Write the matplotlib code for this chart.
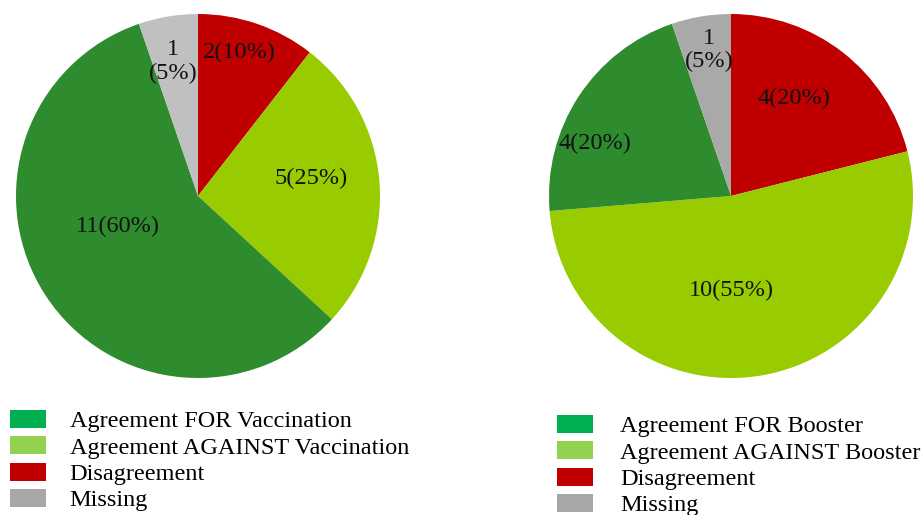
import numpy as np
import matplotlib
matplotlib.use("Agg")
import matplotlib.pyplot as plt
from matplotlib.patches import Patch

# slice order: clockwise from 12 o'clock
vacc_counts = [2, 5, 11, 1]
vacc_labels = ["2(10%)", "5(25%)", "11(60%)", "1\n(5%)"]
boost_counts = [4, 10, 4, 1]
boost_labels = ["4(20%)", "10(55%)", "4(20%)", "1\n(5%)"]

vacc_legend = ["Agreement FOR Vaccination", "Agreement AGAINST Vaccination",
               "Disagreement", "Missing"]
boost_legend = ["Agreement FOR Booster", "Agreement AGAINST Booster",
                "Disagreement", "Missing"]

# slice colours: red, lime, green, grey
slice_cols_l = ["#C00000", "#99CC00", "#2E8B2E", "#C0C0C0"]
slice_cols_r = ["#C00000", "#99CC00", "#2E8B2E", "#A9A9A9"]
legend_cols = ["#00B050", "#92D050", "#C00000", "#A9A6A6"]

# label placement: fraction of radius, angle shift (deg, clockwise) from wedge middle
lab_r_l = [0.82, 0.63, 0.47, 0.75]
lab_da_l = [-3, -4, 12, -1]
lab_r_r = [0.64, 0.52, 0.80, 0.81]
lab_da_r = [-5, 9, -12, 1]

plt.rcParams["font.family"] = ["Liberation Serif", "DejaVu Serif"]

W, H = 923, 515
fig = plt.figure(figsize=(W / 100, H / 100), dpi=100)


def draw_pie(x0, counts, labels, cols, radii, shifts):
    ax = fig.add_axes([x0 / W, 1 - 378 / H, 364 / W, 364 / H])
    wedges, _ = ax.pie(counts, colors=cols, startangle=90, counterclock=False,
                       radius=1, wedgeprops=dict(linewidth=0))
    for w, lab, r, da in zip(wedges, labels, radii, shifts):
        th = np.deg2rad((w.theta1 + w.theta2) / 2 - da)
        ax.text(r * np.cos(th), r * np.sin(th), lab, ha="center", va="center",
                fontsize=17.5, color="#111111", linespacing=1.15)
    ax.set_xlim(-1, 1)
    ax.set_ylim(-1, 1)
    ax.set_aspect("equal")
    ax.axis("off")


draw_pie(16, vacc_counts, vacc_labels, slice_cols_l, lab_r_l, lab_da_l)
draw_pie(549, boost_counts, boost_labels, slice_cols_r, lab_r_r, lab_da_r)


def draw_legend(x, y, names, pad):
    handles = [Patch(facecolor=c, edgecolor="none") for c in legend_cols]
    fig.legend(handles, names, loc="upper left", bbox_to_anchor=(x / W, 1 - y / H),
               frameon=False, fontsize=17.5, handlelength=1.5, handleheight=0.76,
               handletextpad=pad, labelspacing=0.16, borderpad=0, borderaxespad=0)


draw_legend(10, 410, vacc_legend, 0.95)
draw_legend(557, 415, boost_legend, 1.1)

fig.savefig("out.png", dpi=100)
